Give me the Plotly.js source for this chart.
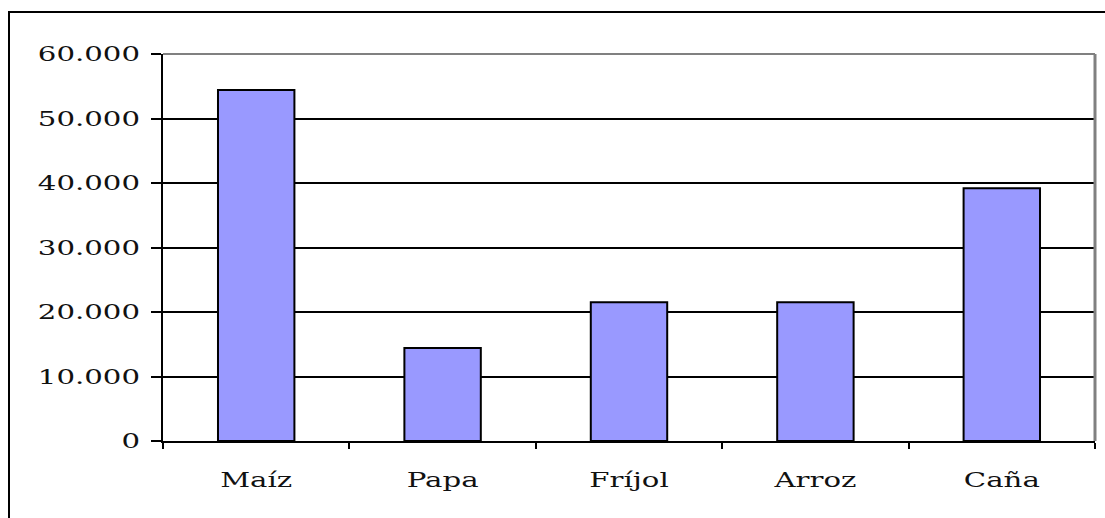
<!DOCTYPE html>
<html>
<head>
<meta charset="utf-8">
<script src="https://cdn.plot.ly/plotly-3.0.1.min.js"></script>
<style>
html, body { margin: 0; padding: 0; background: #fff; }
#chart { width: 1105px; height: 518px; }
</style>
</head>
<body>
<div id="chart"></div>
<script>
const categories = ["Maíz", "Papa", "Fríjol", "Arroz", "Caña"];
const values = [54400, 14400, 21500, 21500, 39200];
const yTickValues = [0, 10000, 20000, 30000, 40000, 50000, 60000];

const L = 163, R = 10, T = 54, B = 77;
const W = 1105, H = 518;
const pw = W - L - R, ph = H - T - B;
const px = v => (v - L) / pw;
const py = v => (H - B - v) / ph;
const FONT = "'DejaVu Serif', serif";

const trace = {
  type: "bar",
  x: categories,
  y: values,
  marker: { color: "#9999FF", line: { color: "#000000", width: 2 } },
  hoverinfo: "x+y"
};

const layout = {
  width: W, height: H,
  margin: { l: L, r: R, t: T, b: B, pad: 0 },
  paper_bgcolor: "#ffffff",
  plot_bgcolor: "#ffffff",
  separators: ",.",
  bargap: 0.59,
  showlegend: false,
  font: { family: FONT, size: 20, color: "#000000" },
  xaxis: {
    type: "category",
    showgrid: false,
    showline: true, linecolor: "#000000", linewidth: 2,
    ticks: "outside", tickson: "boundaries", ticklen: 6, tickwidth: 2, tickcolor: "#000000",
    ticklabelstandoff: 20,
    tickfont: { family: FONT, size: 20, color: "#111111" },
    zeroline: false, fixedrange: true
  },
  yaxis: {
    range: [0, 60000],
    tickvals: yTickValues,
    tickformat: ",d",
    showgrid: true, gridcolor: "#000000", gridwidth: 2,
    showline: true, linecolor: "#000000", linewidth: 2,
    ticks: "outside", ticklen: 10, tickwidth: 2, tickcolor: "#000000",
    ticklabelstandoff: 7,
    tickfont: { family: FONT, size: 20, color: "#111111" },
    zeroline: false, fixedrange: true
  },
  shapes: [
    { type: "line", xref: "paper", yref: "paper", x0: 0, x1: 1, y0: 1, y1: 1,
      line: { color: "#808080", width: 2 } },
    { type: "line", xref: "paper", yref: "paper", x0: 1, x1: 1, y0: 0, y1: 1,
      line: { color: "#808080", width: 3 } },
    { type: "rect", xref: "paper", yref: "paper",
      x0: px(9), x1: px(1120), y0: py(540), y1: py(12),
      line: { color: "#000000", width: 2 }, fillcolor: "rgba(0,0,0,0)" }
  ]
};

Plotly.newPlot("chart", [trace], layout, { displayModeBar: false, staticPlot: true }).then(function () {
  document.querySelectorAll(".xtick text, .ytick text").forEach(function (t) {
    const w = t.getComputedTextLength();
    t.setAttribute("textLength", (w * 1.46).toFixed(1));
    t.setAttribute("lengthAdjust", "spacingAndGlyphs");
  });
});
</script>
</body>
</html>
